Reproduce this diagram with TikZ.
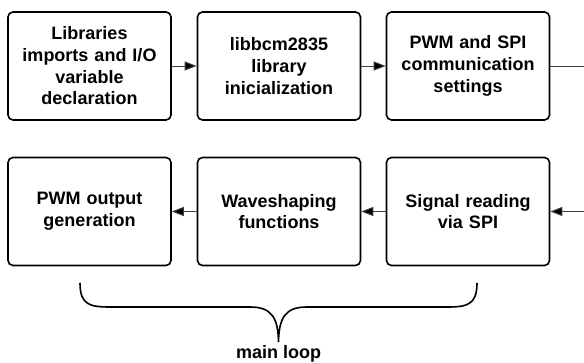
\documentclass[tikz,border=0pt]{standalone}
\usepackage{fontspec}
\setmainfont{Liberation Sans}
\usetikzlibrary{arrows.meta}

\begin{document}
\begin{tikzpicture}[x=1pt,y=-1pt]
		\tikzstyle{stage}=[draw, line width=1.6pt, rounded corners=5pt, minimum width=163pt, minimum height=108pt, text width=155pt, align=center, inner sep=0pt, font=\bfseries\fontsize{18}{21.7}\selectfont]
		\tikzstyle{flow}=[line width=0.9pt, draw=black!75, -{Triangle[length=12pt,width=9pt,fill=black]}]
		\useasboundingbox (0,0) rectangle (584,363);
		% first row
		\node[stage] (libs) at (89.5,66) {Libraries\\imports and I/O\\variable\\declaration};
		\node[stage] (init) at (279,66) {libbcm2835\\library\\inicialization};
		\node[stage] (conf) at (468,66) {PWM and SPI\\communication\\settings};
		% second row
		\node[stage] (pwm) at (89.5,211.5) {PWM output\\generation};
		\node[stage] (shape) at (279,211.5) {Waveshaping\\functions};
		\node[stage] (read) at (468,211.5) {Signal reading\\via SPI};
		\coordinate (outR) at (584,66);
		\coordinate (inR) at (584,211.5);
		\draw[flow] (libs)--(init);
		\draw[flow] (init)--(conf);
		\draw[line width=0.9pt, draw=black!75] (conf)--(outR);
		\draw[flow] (inR)--(read);
		\draw[flow] (read)--(shape);
		\draw[flow] (shape)--(pwm);
		% brace under the loop
		\draw[line width=1.6pt]
			(80,283) .. controls (80,305) and (90,307) .. (110,307) -- (250,307)
			.. controls (272,307) and (278,318) .. (278.5,342)
			.. controls (279,318) and (285,307) .. (307,307) -- (447,307)
			.. controls (467,307) and (477,305) .. (477,283);
		\node[font=\bfseries\fontsize{18}{21.7}\selectfont] (loop) at (278.5,354) {main loop};
	\end{tikzpicture}
\end{document}
